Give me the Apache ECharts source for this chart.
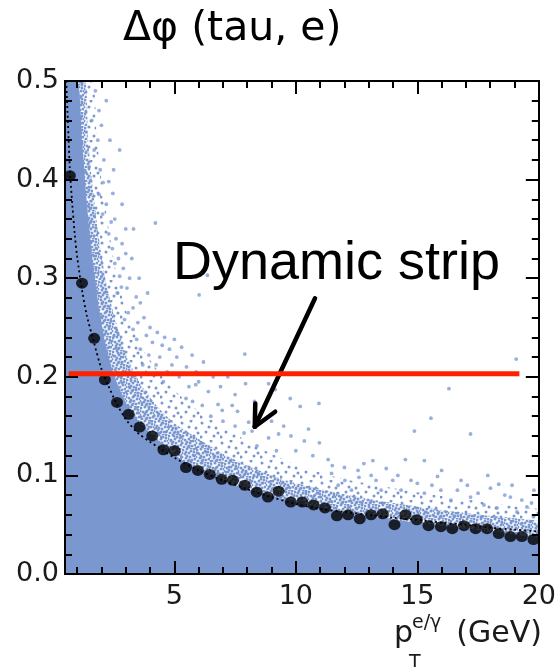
<!DOCTYPE html>
<html>
<head>
<meta charset="utf-8">
<script src="https://cdn.jsdelivr.net/npm/echarts@6/dist/echarts.min.js"></script>
<style>
  html, body { margin: 0; padding: 0; background: #fff; }
  #chart { width: 559px; height: 667px; }
</style>
</head>
<body>
<div id="chart"></div>
<script>
// ---- axis ranges and ticks ----
const xRange = [0.5, 20];
const yRange = [0, 0.5];
const xMajorTicks = [5, 10, 15, 20];
const xMinorTicks = [1, 2, 3, 4, 6, 7, 8, 9, 11, 12, 13, 14, 16, 17, 18, 19];

// ---- profile: mean Δφ per pT bin (black markers) ----
const binCenters = [0.7, 1.2, 1.7, 2.14, 2.64, 3.12, 3.57, 4.09, 4.55, 5.01, 5.48, 5.97, 6.46, 6.95, 7.41,
  7.9, 8.39, 8.85, 9.29, 9.79, 10.27, 10.73, 11.2, 11.69, 12.15, 12.63, 13.1, 13.58, 14.06, 14.51,
  14.98, 15.46, 15.97, 16.44, 16.92, 17.4, 17.87, 18.35, 18.83, 19.3, 19.78];
const binMeans = [0.404, 0.295, 0.239, 0.197, 0.174, 0.162, 0.149, 0.140, 0.126, 0.125, 0.108, 0.105, 0.101, 0.096, 0.095,
  0.090, 0.083, 0.078, 0.084, 0.073, 0.073, 0.070, 0.067, 0.059, 0.060, 0.056, 0.060, 0.061, 0.050, 0.060,
  0.055, 0.049, 0.048, 0.046, 0.049, 0.046, 0.046, 0.041, 0.038, 0.038, 0.035];

// ---- fitted strip width (dotted curve) ----
const fitX = [0.55, 0.6, 0.65, 0.7, 0.8, 0.9, 1.0, 1.2, 1.4, 1.7, 2.0, 2.3, 2.6, 3.0, 3.5, 4.0, 4.5, 5,
  6, 7, 8, 9, 10, 11, 12, 13, 14, 15, 16, 17, 18, 19, 20];
const fitY = [0.50, 0.47, 0.44, 0.41, 0.375, 0.345, 0.322, 0.288, 0.262, 0.234, 0.208, 0.19, 0.174, 0.157, 0.143, 0.134, 0.126, 0.118,
  0.105, 0.095, 0.086, 0.078, 0.071, 0.066, 0.063, 0.060, 0.057, 0.055, 0.052, 0.050, 0.047, 0.045, 0.043];

// ---- electron cloud: envelopes of the populations (solid core, dense and loose speckle) ----
const coreX = [0.5, 1.0, 1.2, 1.42, 1.65, 1.9, 2.15, 2.5, 3.0, 3.6, 4.3, 5, 6, 7, 8, 9, 10, 11, 12, 13, 14, 15, 16, 17, 18, 19, 20];
const coreY = [0.5, 0.5, 0.44, 0.37, 0.315, 0.27, 0.235, 0.203, 0.174, 0.153, 0.136, 0.121, 0.106, 0.095, 0.086, 0.079, 0.073, 0.068, 0.063, 0.059, 0.055, 0.052, 0.049, 0.046, 0.043, 0.040, 0.037];
const innerX = [0.5, 1.3, 1.45, 1.65, 1.9, 2.2, 2.6, 3.05, 3.6, 4.3, 5, 6, 7, 8, 9, 10, 12, 14, 16, 18, 20];
const innerY = [0.5, 0.5, 0.44, 0.39, 0.34, 0.295, 0.255, 0.22, 0.193, 0.17, 0.153, 0.137, 0.122, 0.11, 0.1, 0.092, 0.081, 0.072, 0.065, 0.059, 0.054];
const outerX = [0.5, 1.6, 1.8, 2.0, 2.3, 2.65, 3.1, 3.6, 4.2, 5.0, 6.0, 7.0, 8.0, 9.0, 10.0, 11, 12, 14, 16, 18, 20];
const outerY = [0.5, 0.5, 0.445, 0.4, 0.35, 0.3, 0.26, 0.232, 0.21, 0.186, 0.165, 0.149, 0.135, 0.122, 0.111, 0.103, 0.096, 0.087, 0.079, 0.072, 0.066];

// ---- isolated candidates outside the dense band ----
const sparsePts = [
  [1.75, 0.49], [1.9, 0.47], [1.6, 0.46], [2.0, 0.455], [1.85, 0.44], [2.75, 0.43], [1.7, 0.43], [2.1, 0.42],
  [1.95, 0.41], [2.3, 0.398], [2.07, 0.397], [2.47, 0.386], [1.9, 0.385], [2.2, 0.375], [2.05, 0.365], [2.4, 0.357],
  [2.55, 0.36], [4.22, 0.356], [3.32, 0.35], [2.3, 0.345], [2.6, 0.34], [2.45, 0.33], [2.85, 0.335], [2.7, 0.32],
  [3.0, 0.325], [2.55, 0.315], [2.9, 0.31], [3.16, 0.3], [2.75, 0.302], [2.82, 0.291], [3.05, 0.29], [3.43, 0.281],
  [3.3, 0.27], [3.6, 0.275], [3.1, 0.265], [3.75, 0.26], [3.5, 0.255], [4.0, 0.25], [3.3, 0.248], [4.3, 0.245],
  [3.85, 0.242], [4.6, 0.24], [4.1, 0.235], [5.0, 0.238], [4.5, 0.232], [5.3, 0.23], [4.8, 0.228], [5.73, 0.222],
  [5.1, 0.22], [6.36, 0.303], [6.02, 0.283], [7.9, 0.223], [19.07, 0.218], [4.4, 0.22], [4.9, 0.212], [5.5, 0.21],
  [6.2, 0.215], [5.9, 0.205], [6.6, 0.2], [6.0, 0.195], [7.2, 0.2], [6.9, 0.19], [8.88, 0.193], [7.93, 0.193],
  [9.15, 0.187], [5.88, 0.192], [9.77, 0.178], [10.95, 0.173], [10.18, 0.17], [16.3, 0.188], [15.56, 0.158], [8.06, 0.154],
  [5.48, 0.178], [5.75, 0.175], [6.15, 0.171], [6.97, 0.166], [7.38, 0.171], [7.87, 0.143], [8.88, 0.138], [9.29, 0.142],
  [10.35, 0.135], [10.52, 0.147], [10.97, 0.133], [14.88, 0.145], [17.19, 0.142], [13.17, 0.115], [13.72, 0.107], [14.51, 0.116],
  [15.29, 0.115], [15.83, 0.099], [16.65, 0.085], [17.06, 0.09], [18.01, 0.087], [18.35, 0.091], [18.83, 0.078], [19.51, 0.068],
  [18.28, 0.067], [14.33, 0.085], [14.74, 0.095], [13.99, 0.095], [13.51, 0.085], [12.56, 0.105], [12.29, 0.085], [12.02, 0.095],
  [11.74, 0.09], [11.47, 0.102], [11.33, 0.116], [13.1, 0.1], [15.97, 0.085], [15.29, 0.082], [16.38, 0.075], [17.19, 0.078],
  [17.74, 0.07], [19.1, 0.063], [19.78, 0.058], [6.5, 0.16], [7.0, 0.155], [7.5, 0.15], [8.2, 0.145], [6.8, 0.172],
  [7.6, 0.165], [8.5, 0.16], [9.0, 0.155], [9.5, 0.15], [9.8, 0.14], [8.4, 0.13], [9.2, 0.125], [10.0, 0.125],
  [10.7, 0.12], [11.5, 0.11], [12.0, 0.108], [12.6, 0.098], [13.3, 0.095], [12.8, 0.112], [14.2, 0.1], [15.0, 0.092],
  [15.6, 0.09], [16.8, 0.095], [17.5, 0.082], [18.6, 0.08], [19.3, 0.075], [16.0, 0.105], [19.7, 0.072], [18.9, 0.09],
  [17.9, 0.1], [19.8, 0.085], [3.6, 0.228], [3.95, 0.222], [4.25, 0.212], [3.7, 0.212], [4.7, 0.205], [5.2, 0.2],
  [4.55, 0.195], [5.6, 0.19], [6.4, 0.185], [7.5, 0.182], [8.3, 0.175], [3.45, 0.238], [2.95, 0.258], [2.65, 0.285],
  [2.2, 0.48], [2.35, 0.44], [2.5, 0.41], [2.85, 0.375], [3.0, 0.35], [3.25, 0.32], [3.55, 0.3], [3.9, 0.285]
];

// ---- fixed cut and annotation ----
const fixedCut = 0.203;
const fixedCutSpan = [0.65, 19.2];
const arrowTail = [10.79, 0.2796];
const arrowTip = [8.31, 0.1494];
const arrowWingA = [8.33, 0.173];
const arrowWingB = [9.15, 0.1646];

const zip = (xs, ys) => xs.map((x, i) => [x, ys[i]]);
const cloudBlue = '#7b97cf';
const tickFont = 'DejaVu Sans';

// speckle textures for the dense and loose parts of the cloud
function speckle(size, dots, r) {
  const c = document.createElement('canvas');
  c.width = size; c.height = size;
  const g = c.getContext('2d');
  g.fillStyle = cloudBlue;
  dots.forEach(([x, y]) => { g.beginPath(); g.arc(x, y, r, 0, Math.PI * 2); g.fill(); });
  return c;
}
const denseTile = speckle(14, [[1, 2], [5, 1], [9, 3], [12, 1], [3, 6], [7, 5], [11, 7], [0, 9], [4, 10],
  [8, 9], [13, 11], [2, 13], [6, 13], [10, 12], [12, 4], [5, 8], [9, 0], [14, 7], [0, 5], [7, 12]], 1.5);
const looseTile = speckle(20, [[2, 3], [11, 1], [16, 8], [6, 12], [14, 16], [1, 17], [9, 7], [18, 13]], 1.5);

function xAxisDef(position, ticks, len, labels) {
  return {
    type: 'value', position, min: xRange[0], max: xRange[1], z: 10,
    axisLine: { show: true, onZero: false, lineStyle: { color: '#000', width: 2 } },
    axisTick: { show: true, inside: true, length: len, customValues: ticks, lineStyle: { color: '#000', width: 2 } },
    axisLabel: labels ? { show: true, customValues: ticks, margin: 9, fontFamily: tickFont, fontSize: 27, color: '#1a1a1a' } : { show: false },
    splitLine: { show: false }
  };
}
function yAxisDef(position, labels) {
  return {
    type: 'value', position, min: yRange[0], max: yRange[1], interval: 0.1, z: 10,
    axisLine: { show: true, onZero: false, lineStyle: { color: '#000', width: 2 } },
    axisTick: { show: true, inside: true, length: 13, lineStyle: { color: '#000', width: 2 } },
    minorTick: { show: true, splitNumber: 5, length: 7, lineStyle: { color: '#000', width: 2 } },
    axisLabel: labels ? { show: true, margin: 6, fontFamily: tickFont, fontSize: 27, color: '#1a1a1a', formatter: v => v.toFixed(1) } : { show: false },
    splitLine: { show: false }
  };
}

const chart = echarts.init(document.getElementById('chart'), null, { renderer: 'canvas' });

const areaSeries = (name, xs, ys, color) => ({
  name, type: 'line', data: zip(xs, ys), showSymbol: false, silent: true, smooth: 0.2,
  lineStyle: { width: 0 }, areaStyle: { color, opacity: 1 }, z: 1
});

chart.setOption({
  animation: false,
  backgroundColor: '#fff',
  grid: { left: 65, right: 17, top: 81, bottom: 93 },
  xAxis: [
    xAxisDef('bottom', xMajorTicks, 13, true),
    xAxisDef('bottom', xMinorTicks, 7, false),
    xAxisDef('top', xMajorTicks, 13, false),
    xAxisDef('top', xMinorTicks, 7, false)
  ],
  yAxis: [yAxisDef('left', true), yAxisDef('right', false)],
  series: [
    areaSeries('loose', outerX, outerY, { image: looseTile, repeat: 'repeat' }),
    areaSeries('dense', innerX, innerY, { image: denseTile, repeat: 'repeat' }),
    areaSeries('core', coreX, coreY, cloudBlue),
    {
      name: 'sparse', type: 'scatter', data: sparsePts, symbol: 'circle', symbolSize: 3.8,
      itemStyle: { color: '#7f9bd3' }, silent: true, z: 2
    },
    {
      name: 'fit', type: 'line', data: zip(fitX, fitY), showSymbol: false, smooth: 0.3, silent: true,
      lineStyle: { color: '#000', width: 1.8, type: [2, 3] }, z: 3
    },
    {
      name: 'profile', type: 'scatter', data: zip(binCenters, binMeans), symbol: 'circle', symbolSize: [12, 11],
      itemStyle: { color: '#000' }, silent: true, z: 4
    },
    {
      name: 'cut', type: 'line', data: fixedCutSpan.map(x => [x, fixedCut]), showSymbol: false, silent: true,
      lineStyle: { color: '#ff2200', width: 5, cap: 'butt' }, z: 5,
      markLine: {
        silent: true, symbol: ['none', 'none'], animation: false,
        label: { show: false },
        lineStyle: { color: '#000', width: 4.5, type: 'solid', cap: 'round' },
        data: [
          [{ coord: arrowTail }, { coord: arrowTip }],
          [{ coord: arrowTip }, { coord: arrowWingA }],
          [{ coord: arrowTip }, { coord: arrowWingB }]
        ]
      }
    }
  ],
  graphic: [
    { type: 'text', x: 123, y: 29, z: 20, style: { text: 'Δφ (tau, e)', font: '41px "DejaVu Sans"', fill: '#000', align: 'left', verticalAlign: 'middle' } },
    { type: 'text', x: 173, y: 264, z: 20, style: { text: 'Dynamic strip', font: '54px "Liberation Sans"', fill: '#000', align: 'left', verticalAlign: 'middle' } },
    { type: 'text', x: 394, y: 634, z: 20, style: { text: 'p', font: '30px "DejaVu Sans"', fill: '#1a1a1a', align: 'left', verticalAlign: 'middle' } },
    { type: 'text', x: 412, y: 623, z: 20, style: { text: 'e/γ', font: '19px "DejaVu Sans"', fill: '#1a1a1a', align: 'left', verticalAlign: 'middle' } },
    { type: 'text', x: 409, y: 663, z: 20, style: { text: 'T', font: '19px "DejaVu Sans"', fill: '#1a1a1a', align: 'left', verticalAlign: 'middle' } },
    { type: 'text', x: 542, y: 634, z: 20, style: { text: '(GeV)', font: '30px "DejaVu Sans"', fill: '#1a1a1a', align: 'right', verticalAlign: 'middle' } }
  ]
});
</script>
</body>
</html>
